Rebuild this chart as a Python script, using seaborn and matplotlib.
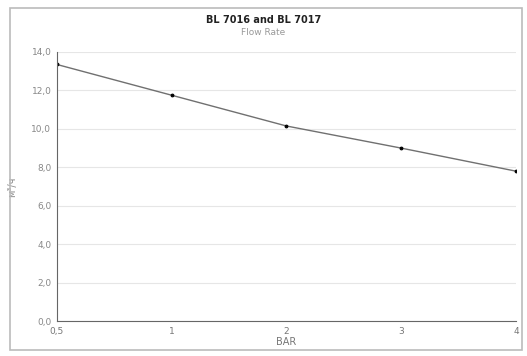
import matplotlib
matplotlib.use("Agg")
import matplotlib.pyplot as plt
import seaborn as sns
import pandas as pd
from matplotlib.patches import Rectangle

pressure_labels = ["0,5", "1", "2", "3", "4"]
flow_values = [13.35, 11.75, 10.15, 9.0, 7.8]
y_ticks = [0, 2, 4, 6, 8, 10, 12, 14]
y_tick_labels = ["0,0", "2,0", "4,0", "6,0", "8,0", "10,0", "12,0", "14,0"]

sns.set_theme(style="white")
plt.rcParams['font.family'] = ['DejaVu Sans']

df = pd.DataFrame({"idx": range(len(pressure_labels)), "flow": flow_values})

fig = plt.figure(figsize=(5.27, 3.56), dpi=100)
ax = fig.add_axes([0.108, 0.098, 0.871, 0.756])

ax.set_axisbelow(True)
ax.yaxis.grid(True, color="#e6e6e6", linewidth=0.8)
sns.lineplot(data=df, x="idx", y="flow", ax=ax, color="#707070", linewidth=1.0,
             marker="o", markersize=2, markerfacecolor="black", markeredgecolor="black")

ax.set_xlim(0, len(pressure_labels) - 1)
ax.set_ylim(0, 14)
ax.set_xticks(range(len(pressure_labels)))
ax.set_xticklabels(pressure_labels)
ax.set_yticks(y_ticks)
ax.set_yticklabels(y_tick_labels)
ax.tick_params(axis="both", labelsize=6.5, colors="#555555", length=2, width=0.6, pad=2)
ax.tick_params(axis="x", labelcolor="#777777")
ax.tick_params(axis="y", labelcolor="#888888")
for s in ["top", "right"]:
    ax.spines[s].set_visible(False)
for s in ["left", "bottom"]:
    ax.spines[s].set_color("#666666")
    ax.spines[s].set_linewidth(0.8)

ax.set_xlabel("BAR", fontsize=7, color="#777777", labelpad=1)
ax.set_ylabel("м³/ч", fontsize=7, color="#888888", labelpad=10)

fig.text(0.5, 0.945, "BL 7016 and BL 7017", ha="center", va="center",
         fontsize=7, fontweight="bold", color="#222222")
fig.text(0.5, 0.91, "Flow Rate", ha="center", va="center", fontsize=6.5, color="#999999")

fig.patches.append(Rectangle((10/527, 1 - 350/356), 512/527, 342/356,
                             transform=fig.transFigure, fill=False,
                             edgecolor="#bbbbbb", linewidth=1.2))

fig.savefig("out.png", dpi=100)
